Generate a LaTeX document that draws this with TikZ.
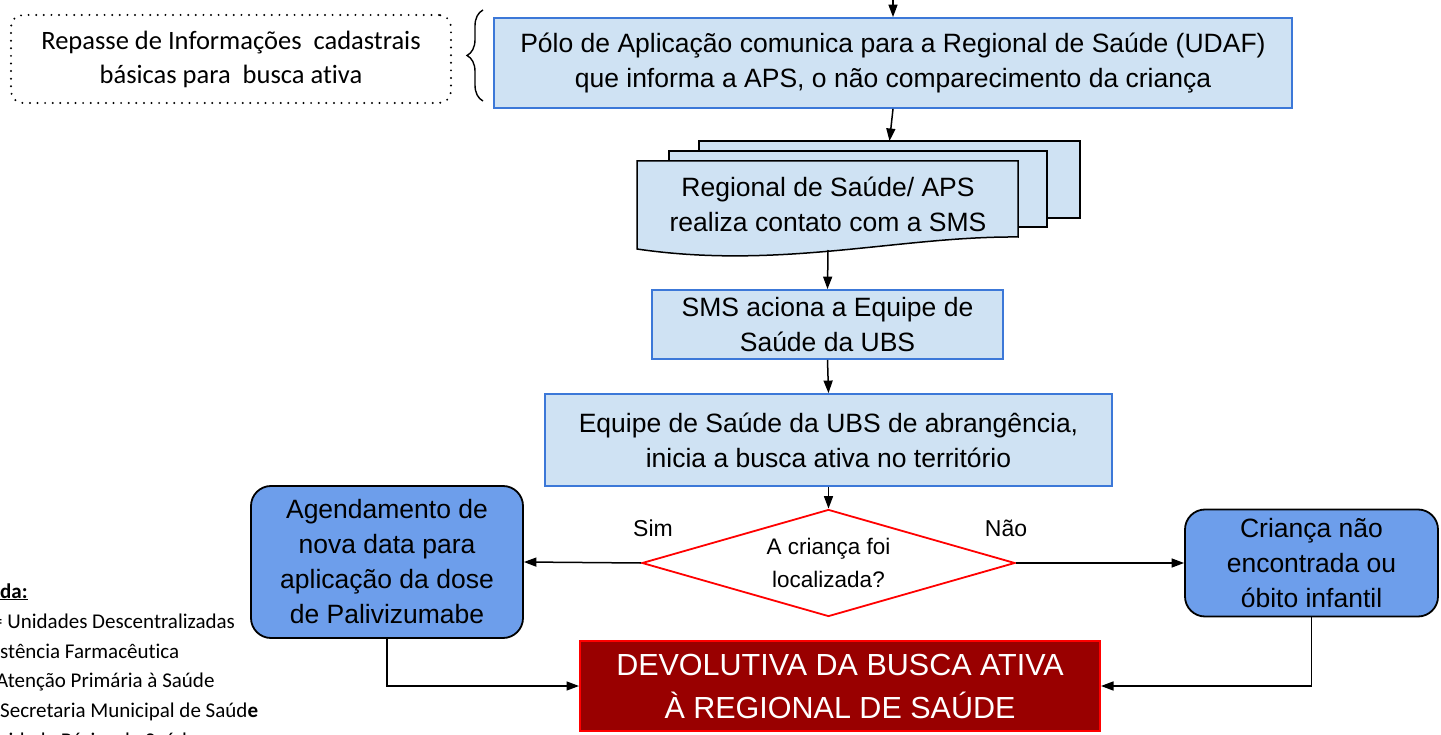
\documentclass[tikz,border=0pt]{standalone}
\usepackage{fontspec}
\setmainfont{Liberation Sans}
\newfontfamily\calib[Ligatures=NoCommon]{Carlito}
\usetikzlibrary{arrows.meta, shapes.geometric, decorations.pathreplacing}
\definecolor{azulc}{HTML}{CFE2F3}
\definecolor{azulb}{HTML}{3C78D8}
\definecolor{azulm}{HTML}{6D9EEB}
\definecolor{vinho}{HTML}{990000}

\begin{document}
\begin{tikzpicture}[x=1pt, y=-1pt,
            caixa/.style={rectangle, draw=azulb, fill=azulc, line width=1.8pt, inner sep=0pt, align=center, font=\fontsize{26.5}{35}\selectfont},
            redonda/.style={rectangle, rounded corners=20pt, draw=black, fill=azulm, line width=1.8pt, inner sep=0pt, align=center, font=\fontsize{26.5}{35}\selectfont},
            folha/.style={draw=black, fill=azulc, line width=1.5pt},
            seta/.style={-{Triangle[length=12.5pt, width=9pt]}, line width=1.5pt},
            rotulo/.style={inner sep=0pt, font=\fontsize{23}{28}\selectfont},
            legenda/.style={anchor=base west, inner sep=0pt, font=\calib\fontsize{21}{25}\selectfont}]
        \fill[white] (0,0) rectangle (1441,735);
        \useasboundingbox (0,0) rectangle (1441,735);
        \node[draw, line width=2.2pt, dash pattern=on 0pt off 7.6pt, line cap=round, rounded corners=12pt,
            minimum width=440, minimum height=88, inner sep=0pt, align=center,
            font=\calib\fontsize{26.5}{34}\selectfont] (repasse) at (231,59) {Repasse de Informações~ cadastrais\\básicas para~ busca ativa};
        \draw[decorate, decoration={brace, amplitude=16pt}, line width=1.4pt] (483,101) -- (483,10);
        \node[caixa, minimum width=798, minimum height=90] (polo) at (893,63) {Pólo de Aplicação comunica para a Regional de Saúde (UDAF)\\que informa a APS, o não comparecimento da criança};
        \draw[folha] (699,141) rectangle (1080,218);
        \draw[folha] (669,151) rectangle (1047,227);
        \draw[folha] (637,161) -- (1018,161) -- (1018,237) .. controls (900,236) and (780,270) .. (637,249) -- cycle;
        \node[inner sep=0pt, align=center, font=\fontsize{26.5}{35}\selectfont] (regional) at (828,204.5) {Regional de Saúde/ APS\\realiza contato com a SMS};
        \coordinate (doctopo) at (889.5,141);
        \coordinate (docbase) at (828,250);
        \node[caixa, minimum width=351, minimum height=69] (sms) at (827.5,324.5) {SMS aciona a Equipe de\\Saúde da UBS};
        \node[caixa, minimum width=567, minimum height=92] (equipe) at (828.5,440) {Equipe de Saúde da UBS de abrangência,\\inicia a busca ativa no território};
        \node[diamond, draw=red, fill=white, line width=1.8pt, aspect=3.5, minimum width=373, minimum height=107,
            inner sep=0pt, align=center, font=\fontsize{22.5}{33}\selectfont] (losango) at (828.5,563) {A criança foi\\localizada?};
        \node[redonda, minimum width=272, minimum height=152] (agenda) at (387,562) {Agendamento de\\nova data para\\aplicação da dose\\de Palivizumabe};
        \node[redonda, minimum width=253, minimum height=107] (crianca) at (1311.5,563) {Criança não\\encontrada ou\\óbito infantil};
        \node[rectangle, draw=red, fill=vinho, text=white, line width=2pt, minimum width=520, minimum height=90,
            inner sep=0pt, align=center, font=\fontsize{30.5}{43}\selectfont] (devol) at (840,686) {DEVOLUTIVA DA BUSCA ATIVA\\À REGIONAL DE SAÚDE};
        \node[rotulo] (sim) at (653,528) {Sim};
        \node[rotulo] (nao) at (1006,528) {Não};
        \coordinate (entrada) at (893,0);
        \draw[seta] (entrada) -- (polo.north);
        \draw[seta] (polo.south) -- (doctopo);
        \draw[seta] (docbase) -- (sms.north);
        \draw[seta] (sms.south) -- (equipe.north);
        \draw[seta] (equipe.south) -- (losango.north);
        \draw[seta] (losango.west) -- (agenda.east);
        \draw[seta] (losango.east) -- (crianca.west);
        \draw[seta] (agenda.south) |- (devol.west);
        \draw[seta] (crianca.south) |- (devol.east);
        \node[legenda] (leg0) at (0,598) {\underline{\textbf{da:}}};
        \node[legenda] (leg1) at (-8,628) {= Unidades Descentralizadas};
        \node[legenda] (leg2) at (0,658) {stência Farmacêutica};
        \node[legenda] (leg3) at (-4,687) {Atenção Primária à Saúde};
        \node[legenda] (leg4) at (0,717) {Secretaria Municipal de Saúd\textbf{e}};
        \node[legenda] (leg5) at (-16,747) {Unidade Básica de Saúde};
    \end{tikzpicture}
\end{document}
